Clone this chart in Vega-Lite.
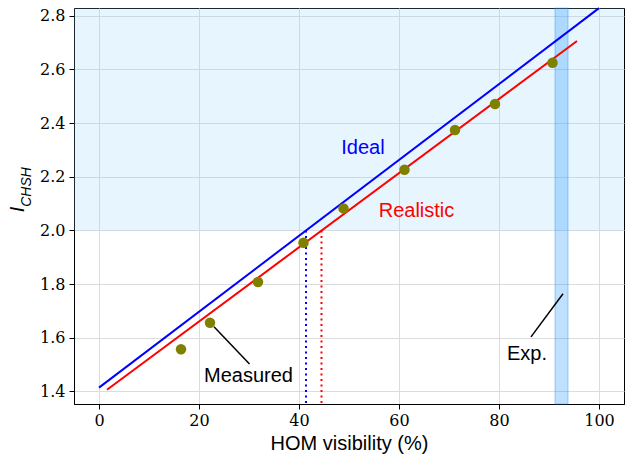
{
  "$schema": "https://vega.github.io/schema/vega-lite/v6.json",
  "width": 550,
  "height": 396,
  "autosize": {"type": "none"},
  "padding": {"left": 74, "top": 8, "right": 1, "bottom": 52},
  "background": "white",
  "view": {"stroke": "#000000", "strokeWidth": 1},
  "config": {
    "axis": {
      "grid": true,
      "gridColor": "#dcdcdc",
      "gridWidth": 1,
      "domainColor": "#000000",
      "domainWidth": 1,
      "tickColor": "#000000",
      "tickSize": 5,
      "tickWidth": 1,
      "labelFont": "'DejaVu Serif', 'Liberation Serif', serif",
      "labelFontSize": 16,
      "labelColor": "#000000",
      "titleFont": "Liberation Sans",
      "titleFontSize": 20,
      "titleFontWeight": "normal",
      "titleColor": "#000000"
    }
  },
  "datasets": {
    "region": [{"x": -5, "x2": 105, "y": 2.0, "y2": 2.829}],
    "band": [{"x": 91.2, "x2": 93.8, "y": 1.353, "y2": 2.829}],
    "lines": [
      {"series": "Ideal", "v": 0, "i": 1.4142},
      {"series": "Ideal", "v": 100, "i": 2.8284},
      {"series": "Realistic", "v": 1.6, "i": 1.406},
      {"series": "Realistic", "v": 95.6, "i": 2.706}
    ],
    "thresholds": [
      {"series": "Ideal", "v": 41.4, "i": 2.0, "i2": 1.353},
      {"series": "Realistic", "v": 44.5, "i": 2.0, "i2": 1.353}
    ],
    "leaders": [
      {"series": "Measured", "v": 23.0, "i": 1.641, "v2": 30.1, "i2": 1.502},
      {"series": "Exp.", "v": 86.4, "i": 1.603, "v2": 92.8, "i2": 1.764}
    ],
    "measured": [
      {"v": 16.4, "i": 1.557},
      {"v": 22.2, "i": 1.656},
      {"v": 31.8, "i": 1.808},
      {"v": 40.9, "i": 1.954},
      {"v": 48.9, "i": 2.082},
      {"v": 61.1, "i": 2.226},
      {"v": 71.2, "i": 2.374},
      {"v": 79.2, "i": 2.471},
      {"v": 90.7, "i": 2.625}
    ],
    "labels": [
      {"series": "Ideal", "v": 52.8, "i": 2.308, "text": "Ideal"},
      {"series": "Realistic", "v": 63.5, "i": 2.071, "text": "Realistic"},
      {"series": "Measured", "v": 29.9, "i": 1.458, "text": "Measured"},
      {"series": "Exp.", "v": 85.6, "i": 1.54, "text": "Exp."}
    ],
    "ytitle": [{"v": -5, "i": 2.088, "main": "I", "sub": "CHSH"}]
  },
  "layer": [
    {
      "data": {"name": "region"},
      "mark": {"type": "rect", "fill": "#87cefa", "opacity": 0.2},
      "encoding": {
        "x": {"field": "x", "type": "quantitative", "scale": {"domain": [-5, 105], "nice": false, "zero": false},
              "axis": {"values": [0, 20, 40, 60, 80, 100], "title": "HOM visibility (%)", "titlePadding": 5, "labelPadding": 3}},
        "x2": {"field": "x2"},
        "y": {"field": "y", "type": "quantitative", "scale": {"domain": [1.353, 2.829], "nice": false, "zero": false},
              "axis": {"values": [1.4, 1.6, 1.8, 2.0, 2.2, 2.4, 2.6, 2.8], "format": ".1f", "title": null, "labelPadding": 4}},
        "y2": {"field": "y2"}
      }
    },
    {
      "data": {"name": "band"},
      "mark": {"type": "rect", "fill": "#1e90ff", "fillOpacity": 0.28, "stroke": "#1e90ff", "strokeOpacity": 0.35, "strokeWidth": 1.2},
      "encoding": {
        "x": {"field": "x", "type": "quantitative"},
        "x2": {"field": "x2"},
        "y": {"field": "y", "type": "quantitative"},
        "y2": {"field": "y2"}
      }
    },
    {
      "data": {"name": "lines"},
      "mark": {"type": "line", "strokeWidth": 2},
      "encoding": {
        "x": {"field": "v", "type": "quantitative"},
        "y": {"field": "i", "type": "quantitative"},
        "color": {"field": "series", "type": "nominal",
                  "scale": {"domain": ["Ideal", "Realistic", "Measured", "Exp."], "range": ["#0000ff", "#ff0000", "#000000", "#000000"]},
                  "legend": null}
      }
    },
    {
      "data": {"name": "thresholds"},
      "mark": {"type": "rule", "strokeWidth": 2, "strokeDash": [2, 3.5]},
      "encoding": {
        "x": {"field": "v", "type": "quantitative"},
        "y": {"field": "i", "type": "quantitative"},
        "y2": {"field": "i2"},
        "color": {"field": "series", "type": "nominal", "legend": null}
      }
    },
    {
      "data": {"name": "leaders"},
      "mark": {"type": "rule", "strokeWidth": 1.5},
      "encoding": {
        "x": {"field": "v", "type": "quantitative"},
        "y": {"field": "i", "type": "quantitative"},
        "x2": {"field": "v2"},
        "y2": {"field": "i2"},
        "color": {"field": "series", "type": "nominal", "legend": null}
      }
    },
    {
      "data": {"name": "measured"},
      "mark": {"type": "point", "filled": true, "fill": "#808000", "opacity": 1, "size": 110, "strokeWidth": 0},
      "encoding": {
        "x": {"field": "v", "type": "quantitative"},
        "y": {"field": "i", "type": "quantitative"}
      }
    },
    {
      "data": {"name": "labels"},
      "mark": {"type": "text", "font": "Liberation Sans", "fontSize": 20, "align": "center", "baseline": "middle"},
      "encoding": {
        "x": {"field": "v", "type": "quantitative"},
        "y": {"field": "i", "type": "quantitative"},
        "text": {"field": "text"},
        "color": {"field": "series", "type": "nominal", "legend": null}
      }
    },
    {
      "data": {"name": "ytitle"},
      "mark": {"type": "text", "font": "Liberation Sans", "fontSize": 20, "fontStyle": "italic", "angle": 270, "align": "right", "baseline": "alphabetic", "dy": -50, "color": "#000000"},
      "encoding": {
        "x": {"field": "v", "type": "quantitative"},
        "y": {"field": "i", "type": "quantitative"},
        "text": {"field": "main"}
      }
    },
    {
      "data": {"name": "ytitle"},
      "mark": {"type": "text", "font": "Liberation Sans", "fontSize": 14, "fontStyle": "italic", "angle": 270, "align": "left", "baseline": "alphabetic", "dy": -43, "color": "#000000"},
      "encoding": {
        "x": {"field": "v", "type": "quantitative"},
        "y": {"field": "i", "type": "quantitative"},
        "text": {"field": "sub"}
      }
    }
  ]
}
